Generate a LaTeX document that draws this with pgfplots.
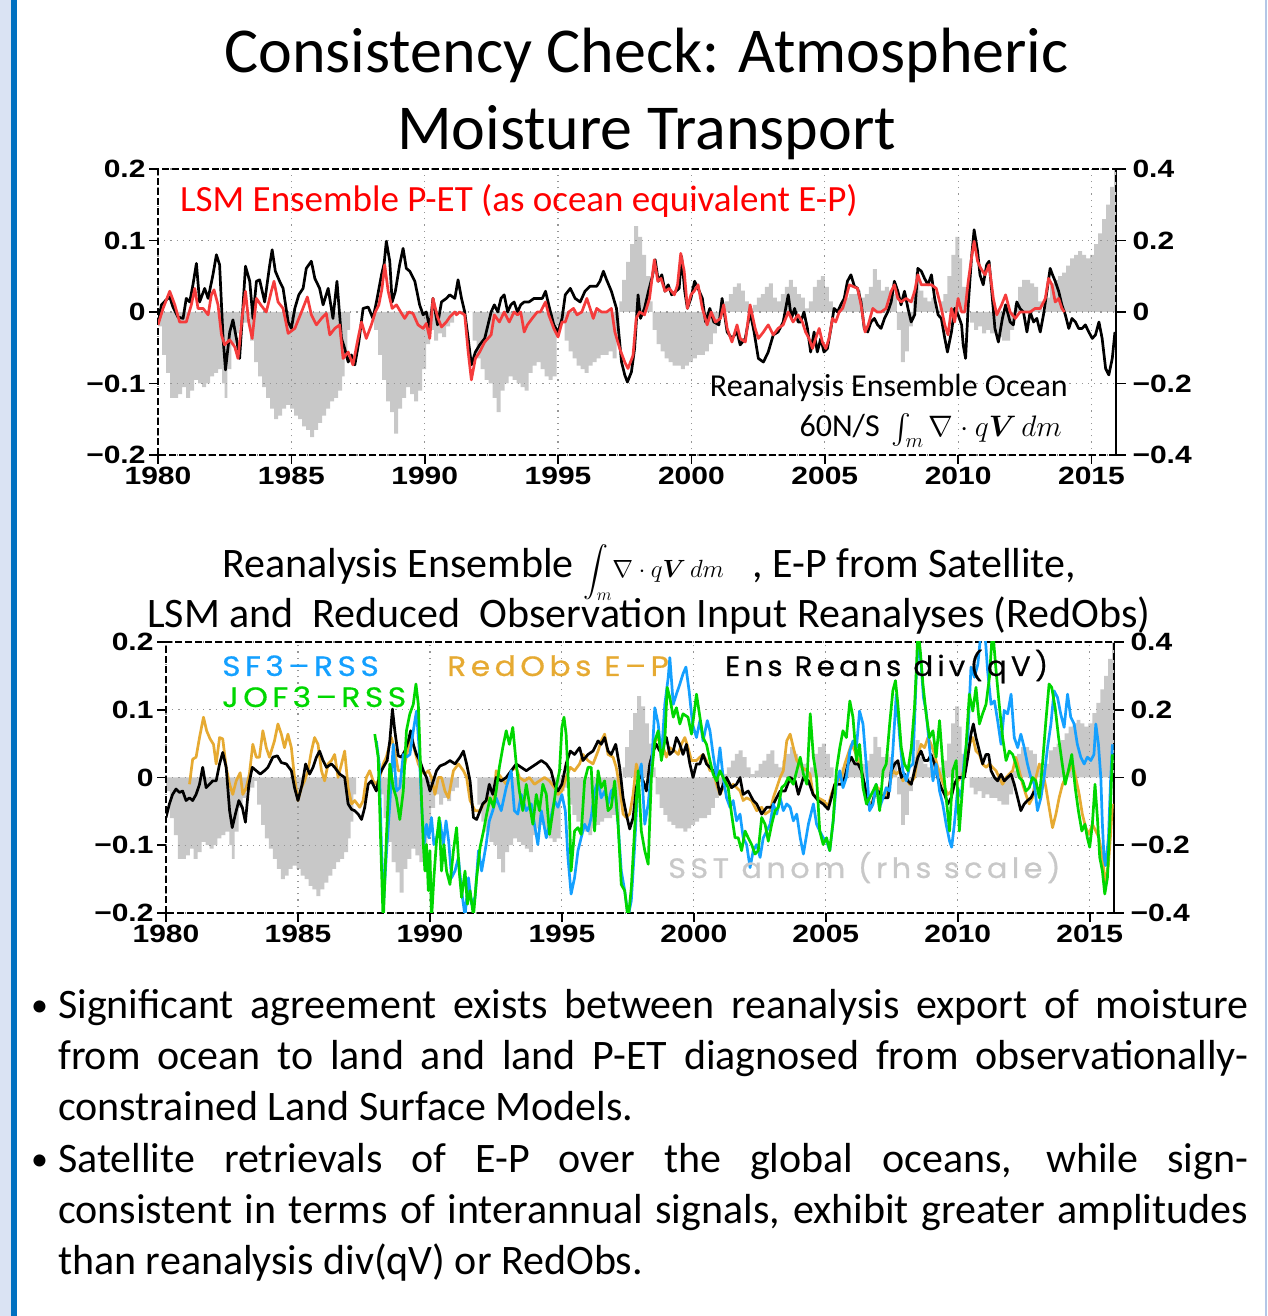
\documentclass[border=0pt]{standalone}
\usepackage{amsmath}
\usepackage{graphicx}
\usepackage{pgfplots}
\pgfplotsset{compat=1.18}
\usepackage{pgfplotstable}
\usepackage{fontspec}
\setmainfont{Carlito}
\newfontfamily\tickfont[FakeStretch=1.2]{Liberation Sans}
\newfontfamily\idlfont[LetterSpace=16,FakeStretch=1.12,FakeBold=0.6]{Poppins}
\newcommand\ticklab{\tickfont\bfseries\fontsize{25}{25}\selectfont}
\definecolor{sstgray}{RGB}{200,200,200}
\definecolor{sfblue}{RGB}{20,160,255}
\definecolor{jofgreen}{RGB}{0,215,0}
\definecolor{redobs}{RGB}{230,170,50}
\definecolor{lsmred}{RGB}{245,60,60}
\definecolor{slideblue}{RGB}{0,112,192}
\definecolor{slidelight}{RGB}{218,227,243}
\definecolor{slideedge}{RGB}{180,199,231}
\definecolor{gridgray}{RGB}{150,150,150}

\pgfplotstableread{
x y
1980.00 -0.04
1980.15 -0.12
1980.30 -0.17
1980.45 -0.24
1980.60 -0.24
1980.75 -0.23
1980.90 -0.21
1981.05 -0.24
1981.20 -0.22
1981.35 -0.19
1981.50 -0.20
1981.65 -0.21
1981.80 -0.20
1981.95 -0.18
1982.10 -0.17
1982.25 -0.16
1982.40 -0.20
1982.50 -0.24
1982.60 -0.16
1982.75 -0.09
1982.90 -0.06
1983.05 -0.04
1983.20 -0.03
1983.35 -0.01
1983.45 -0.08
1983.60 -0.14
1983.75 -0.18
1983.90 -0.21
1984.05 -0.24
1984.20 -0.27
1984.35 -0.30
1984.50 -0.29
1984.65 -0.27
1984.80 -0.26
1984.95 -0.27
1985.10 -0.29
1985.25 -0.30
1985.40 -0.32
1985.55 -0.33
1985.70 -0.35
1985.85 -0.33
1986.00 -0.31
1986.15 -0.29
1986.30 -0.27
1986.45 -0.25
1986.60 -0.24
1986.75 -0.22
1986.90 -0.18
1987.00 -0.13
1987.10 -0.05
1987.20 0.00
1988.05 0.00
1988.10 -0.05
1988.25 -0.12
1988.40 -0.19
1988.55 -0.25
1988.70 -0.28
1988.85 -0.34
1989.00 -0.27
1989.15 -0.24
1989.30 -0.21
1989.45 -0.23
1989.60 -0.25
1989.75 -0.22
1989.90 -0.16
1990.05 -0.09
1990.20 -0.05
1990.35 -0.08
1990.50 -0.06
1990.65 -0.07
1990.80 -0.04
1990.95 -0.03
1991.10 0.00
1991.65 0.00
1991.80 -0.08
1991.95 -0.13
1992.10 -0.16
1992.25 -0.19
1992.40 -0.20
1992.55 -0.24
1992.70 -0.28
1992.85 -0.22
1993.00 -0.20
1993.15 -0.18
1993.30 -0.19
1993.45 -0.20
1993.60 -0.21
1993.75 -0.22
1993.90 -0.17
1994.05 -0.15
1994.20 -0.14
1994.35 -0.16
1994.50 -0.18
1994.65 -0.19
1994.80 -0.18
1994.95 -0.04
1995.10 -0.03
1995.25 -0.08
1995.40 -0.11
1995.55 -0.13
1995.70 -0.15
1995.85 -0.16
1996.00 -0.17
1996.15 -0.15
1996.30 -0.14
1996.45 -0.13
1996.60 -0.12
1996.75 -0.12
1996.90 -0.11
1997.05 -0.13
1997.20 -0.06
1997.30 0.03
1997.40 0.09
1997.55 0.14
1997.70 0.19
1997.85 0.24
1998.00 0.21
1998.15 0.16
1998.30 0.10
1998.45 0.03
1998.55 -0.05
1998.70 -0.09
1998.85 -0.11
1999.00 -0.13
1999.15 -0.14
1999.30 -0.15
1999.45 -0.15
1999.60 -0.16
1999.75 -0.15
1999.90 -0.14
2000.05 -0.13
2000.20 -0.12
2000.35 -0.12
2000.50 -0.11
2000.65 -0.09
2000.80 -0.06
2000.95 -0.02
2001.10 0.01
2001.25 0.03
2001.40 0.05
2001.55 0.07
2001.70 0.08
2001.85 0.06
2002.00 0.03
2002.15 0.01
2002.30 0.02
2002.45 0.04
2002.60 0.05
2002.75 0.07
2002.90 0.08
2003.05 0.04
2003.20 0.03
2003.35 0.05
2003.50 0.07
2003.65 0.09
2003.80 0.07
2003.95 0.05
2004.10 0.04
2004.25 0.01
2004.40 0.03
2004.55 0.07
2004.70 0.09
2004.85 0.10
2005.00 0.07
2005.15 0.03
2005.30 0.00
2005.45 0.01
2005.60 0.03
2005.75 0.04
2005.90 0.05
2006.05 0.05
2006.20 0.06
2006.35 0.04
2006.50 0.05
2006.65 0.07
2006.80 0.12
2006.95 0.09
2007.10 0.06
2007.25 0.07
2007.40 0.06
2007.55 0.05
2007.70 -0.05
2007.85 -0.14
2008.00 -0.11
2008.15 -0.04
2008.30 0.06
2008.40 0.11
2008.55 0.06
2008.70 0.04
2008.85 0.03
2009.00 0.04
2009.15 0.00
2009.30 0.03
2009.45 0.05
2009.60 0.10
2009.75 0.16
2009.90 0.21
2010.05 0.15
2010.15 0.07
2010.30 0.00
2010.45 -0.03
2010.60 -0.05
2010.75 -0.04
2010.90 -0.06
2011.05 -0.05
2011.20 -0.06
2011.35 -0.06
2011.50 -0.07
2011.65 -0.08
2011.80 -0.08
2011.95 -0.05
2012.10 0.02
2012.25 0.07
2012.40 0.09
2012.55 0.09
2012.70 0.08
2012.85 0.07
2013.00 0.03
2013.15 0.00
2013.30 0.04
2013.45 0.08
2013.60 0.09
2013.75 0.10
2013.90 0.11
2014.05 0.13
2014.20 0.15
2014.35 0.16
2014.50 0.17
2014.65 0.16
2014.80 0.15
2014.95 0.16
2015.10 0.19
2015.25 0.22
2015.40 0.26
2015.55 0.30
2015.70 0.35
2015.85 0.40
2015.92 0.40
}\ssttab

\pgfplotsset{
  rightaxis/.style={
    scale only axis, anchor=south west,
    xmin=1980, xmax=2015.92, ymin=-0.4, ymax=0.4,
    axis x line=none, axis y line*=right,
    axis line style={black, line width=1.6pt},
    xtick=\empty,
    ytick={-0.4,-0.2,0,0.2,0.4},
    yticklabels={−0.4,−0.2,0,0.2,0.4},
    tick style={black, line width=1.6pt},
    major tick length=10pt, tick align=outside,
    yticklabel style={font=\ticklab, xshift=3pt},
  },
  leftaxis/.style={
    scale only axis, anchor=south west,
    xmin=1980, xmax=2015.92, ymin=-0.2, ymax=0.2,
    axis line style={black, line width=1.7pt, dash pattern=on 7pt off 3pt},
    xtick={1980,1985,...,2015},
    xticklabels={1980,1985,1990,1995,2000,2005,2010,2015},
    ytick={-0.2,-0.1,0,0.1,0.2},
    yticklabels={−0.2,−0.1,0,0.1,0.2},
    tick pos=left,
    tick style={black, line width=1.6pt},
    major tick length=9pt, tick align=outside,
    ticklabel style={font=\ticklab},
    xmajorgrids, ymajorgrids,
    grid style={gridgray, line width=1.2pt, dash pattern=on 1.2pt off 5pt},
  },
  dataline/.style={line width=2.7pt, line join=round},
}

\begin{document}
\begin{tikzpicture}[x=1pt,y=1pt]
\useasboundingbox (0,0) rectangle (1267,1316);
\fill[white] (0,0) rectangle (1267,1316);
\fill[slidelight] (0,0) rectangle (11,1316);
\fill[slideblue] (11,0) rectangle (17,1316);
\fill[slideedge] (1265,0) rectangle (1267,1316);

% ---------- titles ----------
\node[anchor=base, inner sep=0] at (646.5,1243) {\fontsize{64}{77}\selectfont Consistency Check: Atmospheric};
\node[anchor=base, inner sep=0] at (646.5,1166) {\fontsize{64}{77}\selectfont Moisture Transport};

% ---------- top chart ----------
\begin{axis}[rightaxis, at={(158pt,861pt)}, width=958pt, height=286pt]
\addplot[fill=sstgray, draw=none, const plot] table[x=x,y=y]{\ssttab} \closedcycle;
\end{axis}
\begin{axis}[leftaxis, at={(158pt,861pt)}, width=958pt, height=286pt]
\addplot[dataline, black] coordinates {(1980.00,-0.014)(1980.13,0.010)(1980.31,0.017)(1980.44,0.021)(1980.56,0.007)(1980.75,-0.007)(1980.94,-0.009)(1981.06,0.019)(1981.19,0.014)(1981.31,0.038)(1981.44,0.068)(1981.56,0.014)(1981.75,0.033)(1981.88,0.019)(1982.06,0.052)(1982.19,0.080)(1982.31,0.066)(1982.44,-0.037)(1982.53,-0.081)(1982.69,-0.028)(1982.81,-0.011)(1982.94,-0.037)(1983.06,-0.065)(1983.19,0.010)(1983.28,0.064)(1983.44,0.043)(1983.56,-0.009)(1983.69,0.043)(1983.81,0.045)(1984.00,0.014)(1984.19,0.066)(1984.28,0.087)(1984.40,0.057)(1984.56,0.043)(1984.69,0.033)(1984.88,-0.014)(1985.00,-0.023)(1985.13,0.005)(1985.28,0.024)(1985.44,0.033)(1985.56,0.061)(1985.75,0.071)(1985.88,0.047)(1986.06,0.033)(1986.19,0.010)(1986.38,0.033)(1986.56,-0.009)(1986.71,0.043)(1986.88,-0.037)(1987.00,-0.051)(1987.13,-0.070)(1987.25,-0.060)(1987.38,-0.074)(1987.53,-0.042)(1987.69,0.005)(1987.88,0.007)(1988.06,-0.009)(1988.19,0.014)(1988.38,0.052)(1988.48,0.068)(1988.56,0.099)(1988.69,0.071)(1988.78,0.014)(1988.90,0.029)(1989.06,0.066)(1989.19,0.089)(1989.31,0.061)(1989.44,0.057)(1989.63,0.043)(1989.81,0.010)(1989.94,-0.004)(1990.06,0.000)(1990.19,-0.023)(1990.31,0.019)(1990.48,-0.018)(1990.63,0.014)(1990.81,0.019)(1990.94,0.024)(1991.13,0.019)(1991.25,0.045)(1991.38,0.019)(1991.50,0.000)(1991.63,-0.037)(1991.75,-0.074)(1991.90,-0.056)(1992.06,-0.046)(1992.25,-0.037)(1992.49,0.000)(1992.61,0.010)(1992.74,0.000)(1992.86,0.019)(1992.98,0.024)(1993.11,0.000)(1993.23,0.010)(1993.35,0.014)(1993.48,0.000)(1993.60,0.010)(1993.73,0.014)(1993.91,0.014)(1994.10,0.019)(1994.28,0.019)(1994.41,0.019)(1994.53,0.029)(1994.65,0.010)(1994.84,-0.018)(1995.00,-0.028)(1995.15,-0.009)(1995.27,0.024)(1995.46,0.033)(1995.64,0.019)(1995.83,0.014)(1996.01,0.029)(1996.20,0.036)(1996.45,0.036)(1996.57,0.043)(1996.70,0.057)(1996.82,0.045)(1997.00,0.029)(1997.19,0.005)(1997.38,-0.070)(1997.50,-0.088)(1997.60,-0.098)(1997.75,-0.084)(1997.87,-0.051)(1998.00,0.024)(1998.09,-0.009)(1998.24,0.005)(1998.39,0.029)(1998.55,0.052)(1998.64,0.073)(1998.76,0.043)(1998.89,0.052)(1999.01,0.029)(1999.13,0.038)(1999.26,0.024)(1999.42,0.029)(1999.54,0.033)(1999.63,0.078)(1999.75,0.029)(1999.85,0.005)(1999.98,0.019)(2000.12,0.043)(2000.25,0.033)(2000.41,0.019)(2000.53,-0.014)(2000.69,0.005)(2000.84,-0.014)(2001.03,-0.018)(2001.15,0.019)(2001.34,-0.028)(2001.52,-0.037)(2001.71,-0.028)(2001.83,-0.046)(2002.02,-0.037)(2002.20,0.000)(2002.35,-0.028)(2002.51,-0.065)(2002.70,-0.070)(2002.88,-0.056)(2003.07,-0.032)(2003.25,-0.028)(2003.44,-0.014)(2003.63,0.024)(2003.75,-0.009)(2003.87,0.005)(2004.00,-0.014)(2004.10,-0.014)(2004.22,0.000)(2004.35,-0.023)(2004.47,-0.056)(2004.60,-0.028)(2004.72,-0.056)(2004.85,-0.037)(2004.97,-0.056)(2005.10,-0.051)(2005.23,-0.023)(2005.35,0.005)(2005.48,0.000)(2005.60,0.010)(2005.73,0.019)(2005.85,0.043)(2005.98,0.052)(2006.11,0.036)(2006.23,0.033)(2006.36,0.014)(2006.48,-0.023)(2006.61,-0.028)(2006.73,-0.014)(2006.86,-0.009)(2006.98,-0.018)(2007.11,-0.023)(2007.24,-0.009)(2007.36,0.000)(2007.49,0.014)(2007.61,0.043)(2007.74,0.029)(2007.86,0.010)(2007.99,0.029)(2008.12,0.005)(2008.24,-0.014)(2008.37,-0.004)(2008.49,0.061)(2008.62,0.057)(2008.74,0.047)(2008.87,0.038)(2009.00,0.052)(2009.12,0.019)(2009.25,-0.004)(2009.37,-0.009)(2009.50,-0.037)(2009.60,-0.056)(2009.75,-0.028)(2009.87,0.005)(2010.00,-0.004)(2010.13,-0.018)(2010.19,-0.046)(2010.28,-0.065)(2010.38,0.010)(2010.50,0.075)(2010.60,0.115)(2010.73,0.085)(2010.82,0.052)(2010.94,0.038)(2011.07,0.066)(2011.16,0.071)(2011.26,0.029)(2011.38,-0.023)(2011.51,-0.042)(2011.66,-0.009)(2011.78,0.010)(2011.95,-0.014)(2012.07,-0.018)(2012.20,0.014)(2012.32,0.005)(2012.45,0.000)(2012.58,-0.028)(2012.70,0.000)(2012.83,-0.014)(2012.95,-0.009)(2013.08,-0.028)(2013.20,-0.004)(2013.33,0.029)(2013.45,0.061)(2013.54,0.052)(2013.64,0.043)(2013.77,0.029)(2013.89,0.010)(2014.02,-0.004)(2014.15,-0.023)(2014.27,-0.009)(2014.40,-0.014)(2014.52,-0.023)(2014.65,-0.023)(2014.77,-0.018)(2014.90,-0.028)(2015.03,-0.037)(2015.15,-0.032)(2015.28,-0.014)(2015.40,-0.037)(2015.53,-0.079)(2015.65,-0.088)(2015.78,-0.065)(2015.88,-0.028)};
\addplot[dataline, lsmred] coordinates {(1980.00,-0.018)(1980.19,0.005)(1980.44,0.029)(1980.63,0.010)(1980.81,-0.014)(1981.06,-0.014)(1981.25,0.010)(1981.38,0.033)(1981.50,0.005)(1981.69,0.005)(1981.88,-0.004)(1982.00,0.024)(1982.10,0.031)(1982.25,0.010)(1982.38,-0.032)(1982.50,-0.046)(1982.69,-0.039)(1982.88,-0.049)(1983.00,-0.065)(1983.15,-0.009)(1983.28,0.029)(1983.40,-0.014)(1983.53,-0.037)(1983.69,0.019)(1983.85,0.010)(1984.06,0.000)(1984.25,0.029)(1984.35,0.043)(1984.50,0.014)(1984.69,0.005)(1984.88,-0.030)(1985.13,-0.023)(1985.38,0.000)(1985.60,0.021)(1985.75,-0.004)(1985.94,-0.018)(1986.13,-0.009)(1986.31,-0.002)(1986.44,-0.032)(1986.63,-0.023)(1986.81,-0.018)(1986.94,-0.065)(1987.13,-0.056)(1987.31,-0.074)(1987.50,-0.037)(1987.63,-0.014)(1987.81,-0.037)(1988.00,-0.018)(1988.15,0.000)(1988.28,0.010)(1988.40,0.033)(1988.50,0.066)(1988.63,0.029)(1988.78,0.005)(1988.94,0.010)(1989.10,0.000)(1989.25,-0.009)(1989.40,0.000)(1989.56,-0.002)(1989.75,-0.018)(1989.94,-0.023)(1990.06,-0.016)(1990.19,-0.037)(1990.31,0.019)(1990.48,-0.007)(1990.63,-0.021)(1990.81,-0.014)(1990.94,-0.007)(1991.13,0.000)(1991.19,-0.004)(1991.31,0.000)(1991.50,-0.004)(1991.63,-0.056)(1991.75,-0.095)(1991.90,-0.065)(1992.06,-0.056)(1992.25,-0.042)(1992.49,-0.032)(1992.61,-0.004)(1992.80,-0.014)(1992.98,0.000)(1993.17,-0.014)(1993.35,0.000)(1993.48,-0.004)(1993.60,0.000)(1993.73,-0.028)(1993.85,-0.018)(1994.03,-0.009)(1994.22,0.000)(1994.34,0.000)(1994.53,0.014)(1994.65,-0.004)(1994.84,-0.023)(1995.00,-0.035)(1995.15,-0.014)(1995.27,-0.014)(1995.40,0.000)(1995.58,0.005)(1995.71,-0.004)(1995.89,0.000)(1996.08,0.019)(1996.20,0.005)(1996.32,-0.009)(1996.45,0.005)(1996.63,0.000)(1996.82,0.000)(1997.00,0.005)(1997.13,-0.028)(1997.31,-0.051)(1997.50,-0.070)(1997.62,-0.079)(1997.81,-0.061)(1997.93,-0.009)(1998.06,0.000)(1998.24,-0.004)(1998.43,0.019)(1998.61,0.073)(1998.74,0.043)(1998.86,0.047)(1999.01,0.029)(1999.17,0.033)(1999.36,0.024)(1999.48,0.038)(1999.60,0.082)(1999.73,0.057)(1999.85,0.005)(1999.98,0.024)(2000.10,0.029)(2000.25,0.038)(2000.41,0.005)(2000.59,-0.018)(2000.74,0.000)(2000.90,-0.014)(2001.09,-0.009)(2001.21,0.010)(2001.34,-0.023)(2001.52,-0.042)(2001.71,-0.018)(2001.83,-0.037)(2002.02,-0.042)(2002.20,0.010)(2002.39,-0.023)(2002.51,-0.037)(2002.70,-0.028)(2002.88,-0.018)(2003.07,-0.032)(2003.25,-0.023)(2003.44,-0.018)(2003.63,0.000)(2003.81,-0.014)(2004.00,-0.004)(2004.16,-0.014)(2004.28,-0.028)(2004.41,-0.037)(2004.54,-0.051)(2004.66,-0.037)(2004.79,-0.023)(2004.91,-0.042)(2005.04,-0.051)(2005.16,-0.037)(2005.29,-0.009)(2005.41,-0.014)(2005.54,0.000)(2005.67,0.005)(2005.79,0.019)(2005.92,0.038)(2006.04,0.036)(2006.23,0.033)(2006.36,0.010)(2006.51,-0.028)(2006.63,-0.018)(2006.80,0.005)(2006.96,0.000)(2007.11,0.000)(2007.30,0.005)(2007.49,0.029)(2007.61,0.038)(2007.74,0.019)(2007.86,0.014)(2008.05,0.019)(2008.24,0.014)(2008.37,0.029)(2008.49,0.052)(2008.62,0.038)(2008.81,0.038)(2009.00,0.038)(2009.18,0.033)(2009.37,0.005)(2009.50,-0.018)(2009.62,-0.032)(2009.75,0.005)(2009.87,-0.014)(2010.00,0.019)(2010.13,0.000)(2010.25,0.000)(2010.38,0.043)(2010.50,0.075)(2010.60,0.099)(2010.73,0.071)(2010.85,0.061)(2011.01,0.052)(2011.16,0.066)(2011.32,0.019)(2011.45,-0.004)(2011.63,0.010)(2011.78,0.024)(2011.95,0.000)(2012.14,-0.009)(2012.32,0.000)(2012.51,0.000)(2012.70,0.000)(2012.89,0.005)(2013.08,0.005)(2013.27,0.019)(2013.39,0.047)(2013.52,0.038)(2013.64,0.014)(2013.77,0.019)(2013.89,0.005)(2013.99,0.000)};
\end{axis}

\node[anchor=base west, inner sep=0, text=red] at (180,1104) {\fontsize{37}{44}\selectfont LSM Ensemble P-ET (as ocean equivalent E-P)};
\node[anchor=base east, inner sep=0] at (1068,919) {\fontsize{32}{36}\selectfont Reanalysis Ensemble Ocean};
\node[anchor=base east, inner sep=0] at (1062,879) {\fontsize{32}{36}\selectfont 60N/S\hspace{12pt}\scalebox{1.19}{\fontsize{24}{28}\selectfont$\int_m \nabla\cdot q\boldsymbol{V}\,dm$}};

% ---------- middle title ----------
\node[anchor=base, inner sep=0] at (649,738) {\fontsize{42}{51}\selectfont Reanalysis Ensemble {\fontsize{24}{30}\selectfont$\displaystyle\int_m\!\nabla\cdot q\boldsymbol{V}\,dm$}\ \ \ , E-P from Satellite,};
\node[anchor=base, inner sep=0] at (649,688) {\fontsize{42}{51}\selectfont LSM and\ \ Reduced\ \ Observation Input Reanalyses (RedObs)};

% ---------- bottom chart ----------
\begin{axis}[rightaxis, at={(166pt,403pt)}, width=948pt, height=271pt]
\addplot[fill=sstgray, draw=none, const plot] table[x=x,y=y]{\ssttab} \closedcycle;
\end{axis}
\begin{axis}[leftaxis, at={(166pt,403pt)}, width=948pt, height=271pt]
\addplot[dataline, redobs] coordinates {(1980.89,-0.010)(1981.01,0.027)(1981.14,0.030)(1981.27,0.059)(1981.42,0.089)(1981.54,0.069)(1981.67,0.057)(1981.80,0.049)(1981.90,0.020)(1982.03,0.059)(1982.15,0.057)(1982.28,0.015)(1982.41,-0.010)(1982.53,-0.025)(1982.66,-0.005)(1982.81,0.007)(1982.91,-0.025)(1983.04,-0.015)(1983.16,0.005)(1983.29,0.049)(1983.42,0.030)(1983.54,0.030)(1983.67,0.069)(1983.80,0.044)(1983.92,0.030)(1984.11,0.054)(1984.24,0.079)(1984.37,0.064)(1984.49,0.044)(1984.62,0.064)(1984.75,0.044)(1984.87,0.000)(1985.00,-0.034)(1985.13,-0.015)(1985.25,-0.005)(1985.38,0.010)(1985.51,0.039)(1985.63,0.059)(1985.76,0.049)(1985.89,0.010)(1986.01,-0.005)(1986.14,0.020)(1986.27,0.025)(1986.39,0.034)(1986.52,0.000)(1986.65,0.020)(1986.77,0.039)(1986.90,-0.015)(1987.03,-0.039)(1987.15,-0.034)(1987.34,-0.044)(1987.47,-0.034)(1987.59,0.000)(1987.72,0.010)(1987.85,-0.005)(1987.97,-0.010)(1988.10,0.000)(1988.23,0.020)(1988.35,0.030)(1988.54,0.059)(1988.67,0.039)(1988.80,0.010)(1988.92,0.010)(1989.05,0.020)(1989.18,0.044)(1989.30,0.059)(1989.43,0.039)(1989.56,0.020)(1989.68,0.010)(1989.81,0.005)(1989.94,0.010)(1990.06,0.000)(1990.19,-0.025)(1990.32,0.000)(1990.44,0.000)(1990.57,-0.020)(1990.70,-0.030)(1990.89,0.010)(1991.08,0.020)(1991.27,0.010)(1991.39,0.000)(1991.52,-0.034)(1991.71,-0.049)(1991.90,-0.049)(1992.03,-0.039)(1992.22,-0.030)(1992.41,-0.039)(1992.51,0.010)(1992.70,0.000)(1992.89,-0.010)(1993.08,0.010)(1993.27,0.015)(1993.39,0.000)(1993.58,-0.005)(1993.77,0.000)(1993.96,-0.010)(1994.15,-0.005)(1994.34,0.000)(1994.53,-0.005)(1994.72,-0.015)(1994.85,-0.025)(1995.00,-0.020)(1995.16,0.000)(1995.32,0.015)(1995.48,0.010)(1995.67,0.020)(1995.80,0.034)(1995.99,0.025)(1996.18,0.020)(1996.37,0.039)(1996.49,0.054)(1996.62,0.064)(1996.75,0.034)(1996.94,0.030)(1997.06,0.015)(1997.19,-0.015)(1997.32,-0.054)(1997.44,-0.059)(1997.57,-0.054)(1997.70,-0.025)(1997.82,0.020)(1997.95,0.000)(1998.08,-0.010)(1998.20,-0.015)(1998.33,0.015)(1998.46,0.039)(1998.58,0.059)(1998.71,0.054)(1998.84,0.044)(1998.96,0.030)(1999.09,0.044)(1999.28,0.039)(1999.41,0.034)(1999.53,0.049)(1999.66,0.059)(1999.78,0.044)(1999.91,0.025)(2000.10,0.025)(2000.23,0.030)(2000.35,0.034)(2000.48,0.025)(2000.61,0.010)(2000.73,0.010)(2000.86,-0.010)(2000.99,-0.025)(2001.11,-0.015)(2001.24,-0.005)(2001.37,-0.015)(2001.49,-0.010)(2001.62,-0.015)(2001.75,-0.020)(2001.87,-0.034)(2002.00,-0.030)(2002.19,-0.034)(2002.38,-0.049)(2002.57,-0.044)(2002.70,-0.054)(2002.89,-0.049)(2003.01,-0.030)(2003.14,-0.015)(2003.27,0.000)(2003.39,0.010)(2003.52,0.054)(2003.65,0.064)(2003.77,0.044)(2003.90,0.025)(2004.09,0.015)(2004.28,0.010)(2004.40,0.005)(2004.52,-0.025)(2004.71,-0.030)(2004.90,-0.034)(2005.09,-0.042)(2005.21,-0.025)(2005.34,-0.010)(2005.47,-0.005)(2005.59,0.000)(2005.72,0.020)(2005.84,0.034)(2005.97,0.049)(2006.10,0.039)(2006.22,0.025)(2006.35,0.010)(2006.47,-0.015)(2006.60,-0.034)(2006.73,-0.039)(2006.85,-0.025)(2006.98,-0.015)(2007.17,-0.030)(2007.29,-0.025)(2007.42,-0.010)(2007.54,0.010)(2007.67,0.005)(2007.80,0.010)(2007.92,-0.005)(2008.05,0.000)(2008.17,-0.010)(2008.36,0.000)(2008.49,0.034)(2008.61,0.049)(2008.74,0.044)(2008.87,0.059)(2008.99,0.049)(2009.12,0.034)(2009.24,0.015)(2009.37,0.000)(2009.50,-0.015)(2009.62,-0.025)(2009.75,-0.020)(2009.87,-0.010)(2010.00,-0.005)(2010.13,0.000)(2010.31,0.020)(2010.44,0.049)(2010.57,0.059)(2010.69,0.039)(2010.82,0.034)(2010.94,0.020)(2011.07,0.015)(2011.20,0.020)(2011.32,0.015)(2011.45,0.010)(2011.57,0.000)(2011.70,-0.010)(2011.83,0.000)(2011.95,0.005)(2012.08,0.010)(2012.20,0.030)(2012.33,0.010)(2012.46,-0.010)(2012.58,-0.025)(2012.71,-0.039)(2012.83,-0.030)(2012.96,0.000)(2013.09,0.020)(2013.21,0.010)(2013.34,-0.015)(2013.46,-0.044)(2013.59,-0.074)(2013.72,-0.054)(2013.84,-0.030)(2013.97,-0.010)(2014.09,0.000)(2014.22,0.010)(2014.35,0.020)(2014.47,0.000)(2014.60,-0.025)(2014.72,-0.054)(2014.85,-0.074)(2014.97,-0.084)(2015.10,-0.069)(2015.23,-0.079)(2015.35,-0.089)(2015.48,-0.118)(2015.60,-0.158)(2015.71,-0.128)(2015.79,-0.084)(2015.86,-0.039)};
\addplot[dataline, black] coordinates {(1980.00,-0.059)(1980.13,-0.039)(1980.25,-0.025)(1980.38,-0.017)(1980.51,-0.022)(1980.63,-0.020)(1980.76,-0.034)(1980.89,-0.030)(1981.01,-0.034)(1981.14,-0.025)(1981.27,-0.010)(1981.39,0.015)(1981.52,-0.015)(1981.65,-0.010)(1981.77,-0.005)(1981.90,-0.005)(1982.03,0.020)(1982.15,0.037)(1982.28,0.015)(1982.41,-0.049)(1982.51,-0.074)(1982.63,-0.054)(1982.76,-0.034)(1982.89,-0.044)(1983.01,-0.066)(1983.14,-0.010)(1983.27,0.015)(1983.42,0.010)(1983.57,0.005)(1983.73,0.010)(1983.86,0.015)(1984.05,0.030)(1984.22,0.032)(1984.37,0.022)(1984.56,0.020)(1984.75,0.010)(1984.87,-0.015)(1985.00,-0.034)(1985.16,-0.010)(1985.29,0.020)(1985.44,0.005)(1985.57,0.015)(1985.70,0.030)(1985.82,0.039)(1985.95,0.025)(1986.08,0.015)(1986.27,0.020)(1986.39,0.015)(1986.58,0.005)(1986.77,0.000)(1986.90,-0.039)(1987.03,-0.047)(1987.15,-0.049)(1987.28,-0.054)(1987.41,-0.062)(1987.53,-0.044)(1987.66,-0.010)(1987.78,-0.005)(1987.97,-0.020)(1988.10,0.005)(1988.23,0.015)(1988.38,0.025)(1988.48,0.054)(1988.58,0.101)(1988.67,0.069)(1988.80,0.032)(1988.92,0.030)(1989.05,0.039)(1989.18,0.054)(1989.27,0.069)(1989.37,0.049)(1989.49,0.034)(1989.62,0.025)(1989.75,0.010)(1989.87,0.000)(1990.00,-0.020)(1990.13,-0.005)(1990.25,0.010)(1990.38,0.017)(1990.57,0.020)(1990.76,0.025)(1990.95,0.020)(1991.14,0.030)(1991.27,0.039)(1991.39,0.020)(1991.52,-0.005)(1991.65,-0.059)(1991.77,-0.062)(1992.00,-0.039)(1992.13,-0.034)(1992.25,-0.010)(1992.38,-0.025)(1992.51,0.000)(1992.70,-0.005)(1992.89,0.000)(1993.08,0.010)(1993.27,0.020)(1993.46,0.015)(1993.65,0.010)(1993.84,0.015)(1994.03,0.020)(1994.22,0.025)(1994.41,0.020)(1994.59,0.010)(1994.72,-0.010)(1994.85,-0.020)(1995.00,-0.010)(1995.16,0.020)(1995.32,0.039)(1995.48,0.034)(1995.67,0.044)(1995.80,0.025)(1995.99,0.034)(1996.18,0.039)(1996.37,0.054)(1996.49,0.049)(1996.62,0.059)(1996.75,0.039)(1996.87,0.034)(1997.04,0.049)(1997.19,0.015)(1997.32,-0.030)(1997.44,-0.054)(1997.57,-0.076)(1997.70,-0.059)(1997.82,-0.015)(1997.95,0.005)(1998.08,-0.005)(1998.20,-0.020)(1998.33,0.020)(1998.46,0.039)(1998.58,0.049)(1998.71,0.039)(1998.84,0.054)(1998.96,0.059)(1999.09,0.034)(1999.22,0.039)(1999.34,0.059)(1999.47,0.049)(1999.59,0.034)(1999.72,0.049)(1999.85,0.020)(1999.97,0.000)(2000.10,0.020)(2000.23,0.020)(2000.35,0.034)(2000.48,0.020)(2000.61,0.015)(2000.73,0.010)(2000.86,0.000)(2000.99,-0.025)(2001.11,-0.010)(2001.24,0.000)(2001.43,-0.015)(2001.62,-0.010)(2001.75,0.000)(2001.87,-0.025)(2002.06,-0.020)(2002.25,-0.034)(2002.38,-0.039)(2002.57,-0.054)(2002.76,-0.044)(2002.95,-0.044)(2003.08,-0.034)(2003.27,-0.020)(2003.46,-0.020)(2003.65,0.000)(2003.84,-0.005)(2003.96,-0.025)(2004.15,0.000)(2004.34,-0.005)(2004.52,-0.025)(2004.71,-0.034)(2004.90,-0.039)(2005.09,-0.047)(2005.21,-0.030)(2005.34,-0.010)(2005.47,-0.010)(2005.59,-0.010)(2005.72,0.000)(2005.84,0.020)(2005.97,0.030)(2006.10,0.020)(2006.22,0.020)(2006.35,0.010)(2006.47,-0.010)(2006.60,-0.039)(2006.73,-0.044)(2006.85,-0.025)(2006.98,-0.020)(2007.17,-0.030)(2007.36,-0.030)(2007.48,0.010)(2007.61,0.020)(2007.73,0.025)(2007.86,0.000)(2007.98,0.005)(2008.11,-0.005)(2008.24,-0.010)(2008.36,0.010)(2008.49,0.030)(2008.61,0.039)(2008.74,0.025)(2008.87,0.025)(2008.99,0.034)(2009.12,0.020)(2009.24,0.000)(2009.37,-0.015)(2009.50,-0.025)(2009.62,-0.039)(2009.75,-0.030)(2009.87,-0.010)(2010.00,0.000)(2010.13,0.000)(2010.25,0.000)(2010.38,0.030)(2010.50,0.064)(2010.59,0.079)(2010.69,0.059)(2010.82,0.039)(2010.94,0.020)(2011.07,0.034)(2011.17,0.034)(2011.26,0.010)(2011.39,0.000)(2011.51,-0.005)(2011.64,0.005)(2011.76,-0.005)(2011.89,0.000)(2012.02,0.005)(2012.14,-0.010)(2012.27,-0.030)(2012.39,-0.049)(2012.52,-0.039)(2012.64,-0.034)(2012.77,-0.030)(2012.90,-0.020)};
\addplot[dataline, sfblue] coordinates {(1987.97,0.054)(1988.08,0.020)(1988.16,-0.099)(1988.25,-0.182)(1988.35,-0.113)(1988.48,-0.039)(1988.61,0.049)(1988.73,-0.020)(1988.86,-0.015)(1988.99,0.034)(1989.11,0.030)(1989.24,0.034)(1989.37,0.069)(1989.49,0.098)(1989.59,0.044)(1989.68,-0.039)(1989.78,-0.099)(1989.87,-0.069)(1989.96,-0.089)(1990.06,-0.059)(1990.15,-0.099)(1990.25,-0.089)(1990.38,-0.064)(1990.51,-0.099)(1990.61,-0.064)(1990.71,-0.094)(1990.82,-0.148)(1990.95,-0.138)(1991.08,-0.118)(1991.20,-0.167)(1991.33,-0.205)(1991.46,-0.148)(1991.58,-0.187)(1991.71,-0.177)(1991.84,-0.108)(1991.96,-0.138)(1992.13,-0.099)(1992.25,-0.064)(1992.38,-0.049)(1992.51,-0.030)(1992.70,-0.049)(1992.89,-0.015)(1993.08,0.010)(1993.20,-0.049)(1993.33,-0.054)(1993.46,-0.025)(1993.65,-0.049)(1993.84,-0.039)(1993.96,-0.069)(1994.09,-0.099)(1994.22,-0.049)(1994.41,-0.089)(1994.53,-0.069)(1994.72,-0.034)(1994.85,-0.044)(1995.00,-0.025)(1995.13,-0.049)(1995.23,-0.118)(1995.35,-0.172)(1995.48,-0.148)(1995.61,-0.108)(1995.73,-0.089)(1995.86,-0.069)(1995.99,-0.079)(1996.11,-0.059)(1996.24,-0.020)(1996.37,-0.005)(1996.49,-0.030)(1996.62,-0.020)(1996.75,-0.039)(1996.87,-0.020)(1997.00,-0.015)(1997.13,-0.069)(1997.25,-0.138)(1997.38,-0.167)(1997.51,-0.205)(1997.63,-0.182)(1997.76,-0.099)(1997.89,0.000)(1998.01,0.020)(1998.14,-0.069)(1998.27,-0.039)(1998.39,0.010)(1998.52,0.103)(1998.65,0.079)(1998.77,0.030)(1998.90,0.108)(1999.03,0.148)(1999.09,0.177)(1999.22,0.108)(1999.34,0.123)(1999.47,0.138)(1999.59,0.153)(1999.70,0.163)(1999.82,0.128)(1999.95,0.079)(2000.10,0.059)(2000.23,0.084)(2000.35,0.054)(2000.51,0.084)(2000.61,0.069)(2000.73,0.034)(2000.86,0.000)(2000.99,0.044)(2001.11,0.000)(2001.24,-0.030)(2001.37,-0.044)(2001.49,-0.034)(2001.62,-0.064)(2001.75,-0.054)(2001.87,-0.089)(2002.00,-0.099)(2002.13,-0.133)(2002.25,-0.108)(2002.38,-0.099)(2002.51,-0.118)(2002.63,-0.089)(2002.76,-0.079)(2002.89,-0.069)(2003.01,-0.039)(2003.14,-0.054)(2003.27,-0.030)(2003.39,-0.049)(2003.52,-0.039)(2003.65,-0.044)(2003.77,-0.064)(2003.90,-0.054)(2004.03,-0.089)(2004.15,-0.113)(2004.34,-0.069)(2004.53,-0.039)(2004.65,-0.069)(2004.77,-0.079)(2004.90,-0.089)(2005.03,-0.094)(2005.15,-0.108)(2005.28,-0.064)(2005.40,-0.010)(2005.53,0.010)(2005.65,-0.015)(2005.78,0.000)(2005.91,0.039)(2006.03,0.054)(2006.16,0.044)(2006.28,0.098)(2006.41,0.079)(2006.54,0.015)(2006.66,-0.049)(2006.79,-0.039)(2006.91,-0.010)(2007.04,-0.044)(2007.17,-0.030)(2007.29,-0.015)(2007.42,-0.020)(2007.54,0.039)(2007.67,0.123)(2007.80,0.059)(2007.92,0.010)(2008.05,-0.005)(2008.17,0.015)(2008.30,0.020)(2008.43,0.153)(2008.51,0.202)(2008.61,0.167)(2008.70,0.118)(2008.80,0.098)(2008.93,0.044)(2009.06,-0.005)(2009.18,0.020)(2009.31,-0.020)(2009.43,-0.039)(2009.56,-0.069)(2009.69,-0.094)(2009.77,-0.103)(2009.87,-0.069)(2010.00,-0.015)(2010.13,-0.030)(2010.25,0.030)(2010.38,0.059)(2010.50,0.163)(2010.63,0.148)(2010.76,0.167)(2010.88,0.215)(2011.01,0.225)(2011.13,0.158)(2011.26,0.108)(2011.39,0.113)(2011.51,0.084)(2011.64,0.049)(2011.76,0.099)(2011.89,0.094)(2012.02,0.123)(2012.14,0.059)(2012.27,0.044)(2012.39,0.064)(2012.52,0.044)(2012.64,0.020)(2012.77,0.000)(2012.90,-0.010)(2013.02,-0.049)(2013.15,-0.030)(2013.27,0.000)(2013.40,0.044)(2013.53,0.079)(2013.65,0.128)(2013.78,0.118)(2013.90,0.094)(2014.03,0.074)(2014.16,0.123)(2014.28,0.089)(2014.41,0.079)(2014.53,0.049)(2014.66,0.030)(2014.79,0.020)(2014.91,0.030)(2015.04,0.025)(2015.16,0.034)(2015.23,0.079)(2015.33,0.049)(2015.42,0.000)(2015.48,-0.069)(2015.54,-0.118)(2015.60,-0.130)(2015.71,-0.089)(2015.79,-0.005)(2015.86,0.049)};
\addplot[dataline, jofgreen] coordinates {(1987.91,0.064)(1988.04,0.030)(1988.13,-0.089)(1988.23,-0.215)(1988.35,-0.089)(1988.48,0.020)(1988.61,-0.015)(1988.73,-0.030)(1988.86,-0.062)(1988.99,-0.020)(1989.11,0.069)(1989.24,0.094)(1989.37,0.108)(1989.47,0.138)(1989.56,0.108)(1989.62,0.044)(1989.68,-0.030)(1989.75,-0.099)(1989.81,-0.138)(1989.87,-0.099)(1989.94,-0.167)(1990.00,-0.108)(1990.06,-0.210)(1990.15,-0.148)(1990.25,-0.094)(1990.35,-0.059)(1990.44,-0.138)(1990.53,-0.099)(1990.63,-0.138)(1990.76,-0.158)(1990.89,-0.108)(1991.01,-0.074)(1991.11,-0.138)(1991.20,-0.177)(1991.33,-0.138)(1991.42,-0.187)(1991.52,-0.167)(1991.65,-0.205)(1991.77,-0.148)(1991.90,-0.103)(1992.03,-0.079)(1992.15,-0.054)(1992.28,-0.030)(1992.41,-0.044)(1992.51,-0.020)(1992.63,0.015)(1992.76,0.044)(1992.89,0.069)(1993.01,0.049)(1993.14,0.074)(1993.27,0.020)(1993.39,-0.020)(1993.52,-0.049)(1993.65,-0.010)(1993.77,-0.039)(1993.90,-0.069)(1994.03,-0.025)(1994.15,-0.049)(1994.28,-0.010)(1994.41,-0.025)(1994.53,-0.084)(1994.66,-0.049)(1994.78,-0.015)(1994.91,0.010)(1995.00,0.074)(1995.08,0.089)(1995.16,0.064)(1995.25,-0.010)(1995.35,-0.138)(1995.48,-0.079)(1995.61,-0.074)(1995.73,-0.084)(1995.86,-0.005)(1995.99,0.015)(1996.11,0.015)(1996.24,-0.079)(1996.37,0.010)(1996.49,-0.015)(1996.62,-0.005)(1996.75,-0.049)(1996.87,-0.044)(1997.00,-0.005)(1997.13,-0.069)(1997.25,-0.158)(1997.38,-0.167)(1997.51,-0.210)(1997.63,-0.163)(1997.76,-0.074)(1997.89,0.010)(1998.01,-0.079)(1998.14,-0.108)(1998.27,-0.128)(1998.39,0.000)(1998.52,0.054)(1998.65,0.069)(1998.77,0.025)(1998.90,0.054)(1998.99,0.133)(1999.09,0.118)(1999.22,0.089)(1999.34,0.103)(1999.47,0.079)(1999.59,0.094)(1999.78,0.089)(1999.91,0.064)(2000.10,0.123)(2000.23,0.089)(2000.35,0.059)(2000.48,0.049)(2000.61,0.025)(2000.73,0.005)(2000.86,-0.005)(2000.99,0.010)(2001.11,0.000)(2001.30,-0.015)(2001.43,-0.054)(2001.56,-0.089)(2001.68,-0.089)(2001.81,-0.108)(2001.94,-0.079)(2002.06,-0.089)(2002.19,-0.099)(2002.32,-0.113)(2002.44,-0.108)(2002.57,-0.059)(2002.70,-0.069)(2002.82,-0.094)(2002.95,-0.069)(2003.08,-0.049)(2003.20,-0.044)(2003.33,-0.015)(2003.46,-0.010)(2003.58,0.000)(2003.77,-0.010)(2003.90,0.010)(2004.03,0.030)(2004.15,0.005)(2004.28,-0.010)(2004.41,0.094)(2004.53,0.030)(2004.65,0.000)(2004.77,-0.079)(2004.90,-0.099)(2005.03,-0.089)(2005.15,-0.108)(2005.28,-0.064)(2005.40,0.010)(2005.53,0.044)(2005.65,0.069)(2005.78,0.059)(2005.91,0.113)(2006.03,0.089)(2006.16,0.025)(2006.28,0.049)(2006.41,-0.015)(2006.54,-0.039)(2006.66,-0.030)(2006.79,-0.020)(2006.91,-0.010)(2007.04,-0.049)(2007.17,0.010)(2007.29,0.020)(2007.42,0.079)(2007.54,0.128)(2007.64,0.143)(2007.73,0.108)(2007.86,0.044)(2007.98,0.020)(2008.11,0.010)(2008.24,0.044)(2008.36,0.103)(2008.43,0.158)(2008.49,0.220)(2008.58,0.187)(2008.68,0.138)(2008.80,0.094)(2008.93,0.059)(2009.06,0.069)(2009.18,0.030)(2009.31,0.084)(2009.43,0.020)(2009.56,-0.030)(2009.69,-0.079)(2009.81,0.010)(2009.94,0.025)(2010.06,-0.079)(2010.19,-0.010)(2010.31,0.044)(2010.44,0.123)(2010.57,0.098)(2010.69,0.133)(2010.82,0.079)(2010.94,0.094)(2011.07,0.108)(2011.20,0.148)(2011.32,0.220)(2011.45,0.158)(2011.57,0.108)(2011.70,0.059)(2011.83,0.025)(2011.95,0.039)(2012.08,0.034)(2012.20,0.020)(2012.33,0.000)(2012.46,-0.005)(2012.58,-0.020)(2012.71,-0.015)(2012.83,0.000)(2012.96,-0.005)(2013.09,-0.030)(2013.21,0.020)(2013.34,0.084)(2013.46,0.138)(2013.56,0.133)(2013.69,0.103)(2013.82,0.059)(2013.94,0.025)(2014.07,-0.010)(2014.19,0.010)(2014.32,0.034)(2014.45,-0.015)(2014.57,-0.049)(2014.70,-0.079)(2014.82,-0.069)(2014.91,-0.089)(2015.00,-0.103)(2015.10,-0.069)(2015.20,-0.010)(2015.29,-0.059)(2015.38,-0.118)(2015.48,-0.138)(2015.57,-0.172)(2015.67,-0.148)(2015.76,-0.069)(2015.86,0.034)};
\end{axis}

\node[anchor=base west, inner sep=0, text=sfblue] at (222,640) {\idlfont\fontsize{28}{30}\selectfont SF3–RSS};
\node[anchor=base west, inner sep=0, text=jofgreen] at (222,609) {\idlfont\fontsize{28}{30}\selectfont JOF3–RSS};
\node[anchor=base west, inner sep=0, text=redobs] at (447,640) {\idlfont\fontsize{28}{30}\selectfont RedObs E–P};
\node[anchor=base west, inner sep=0, text=black] at (725,640) {\scalebox{0.935}[1]{\idlfont\fontsize{28}{30}\selectfont Ens Reans div(qV)}};
\node[anchor=base west, inner sep=0, text=sstgray] at (668,438) {\scalebox{0.97}[1]{\idlfont\fontsize{28}{30}\selectfont SST anom (rhs scale)}};

% ---------- bullets ----------
\begin{scope}[every node/.style={anchor=base west, inner sep=0}]
\node at (31,299) {\fontsize{34}{51}\selectfont •};
\node at (58,297) {\fontsize{42}{51}\selectfont\makebox[1190pt][s]{Significant agreement exists between reanalysis export of moisture}};
\node at (58,246) {\fontsize{42}{51}\selectfont\makebox[1190pt][s]{from ocean to land and land P-ET diagnosed from observationally-}};
\node at (58,195) {\fontsize{42}{51}\selectfont constrained Land Surface Models.};
\node at (31,145) {\fontsize{34}{51}\selectfont •};
\node at (58,143) {\fontsize{42}{51}\selectfont\makebox[1190pt][s]{Satellite retrievals of E-P over the global oceans, while sign-}};
\node at (58,92) {\fontsize{42}{51}\selectfont\makebox[1190pt][s]{consistent in terms of interannual signals, exhibit greater amplitudes}};
\node at (58,41) {\fontsize{42}{51}\selectfont than reanalysis div(qV) or RedObs.};
\end{scope}
\end{tikzpicture}
\end{document}
